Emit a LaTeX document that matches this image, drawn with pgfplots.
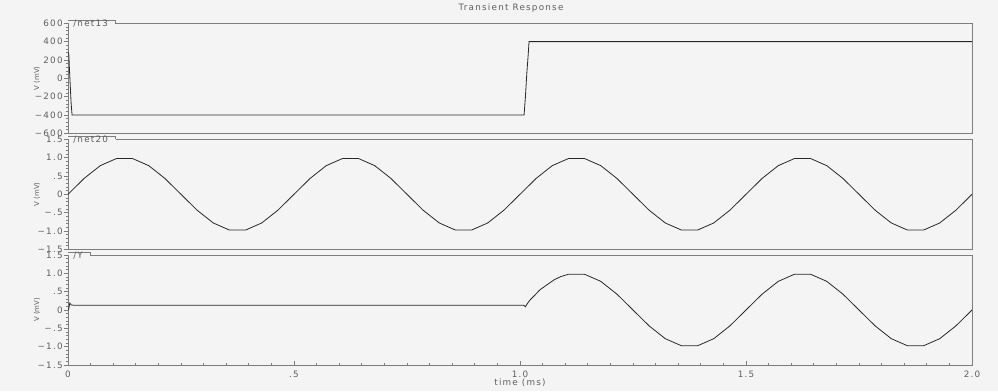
\documentclass[border=0pt]{standalone}
\usepackage{fontspec}
\setmainfont{DejaVu Sans}[LetterSpace=14]
\newfontfamily\labfont{DejaVu Sans}
\usepackage{pgfplots}
\pgfplotsset{compat=1.18}
\definecolor{bg}{RGB}{244,244,244}
\definecolor{frame}{RGB}{125,125,125}
\definecolor{txt}{RGB}{95,95,95}
\definecolor{wave}{RGB}{40,40,40}

\pgfplotstableread{
t v
0 0
0.0357 0.4339
0.0714 0.7818
0.1071 0.9749
0.1429 0.9749
0.1786 0.7818
0.2143 0.4339
0.25 0
0.2857 -0.4339
0.3214 -0.7818
0.3571 -0.9749
0.3929 -0.9749
0.4286 -0.7818
0.4643 -0.4339
0.5 0
0.5357 0.4339
0.5714 0.7818
0.6071 0.9749
0.6429 0.9749
0.6786 0.7818
0.7143 0.4339
0.75 0
0.7857 -0.4339
0.8214 -0.7818
0.8571 -0.9749
0.8929 -0.9749
0.9286 -0.7818
0.9643 -0.4339
1.0 0
1.0357 0.4339
1.0714 0.7818
1.1071 0.9749
1.1429 0.9749
1.1786 0.7818
1.2143 0.4339
1.25 0
1.2857 -0.4339
1.3214 -0.7818
1.3571 -0.9749
1.3929 -0.9749
1.4286 -0.7818
1.4643 -0.4339
1.5 0
1.5357 0.4339
1.5714 0.7818
1.6071 0.9749
1.6429 0.9749
1.6786 0.7818
1.7143 0.4339
1.75 0
1.7857 -0.4339
1.8214 -0.7818
1.8571 -0.9749
1.8929 -0.9749
1.9286 -0.7818
1.9643 -0.4339
2.0 0
}\netTwenty

\pgfplotstableread{
t v
0 0
0.002 0.05
0.004 0.19
0.007 0.14
0.012 0.13
1.008 0.13
1.012 0.09
1.016 0.17
1.022 0.27
1.030 0.37
1.044 0.55
1.060 0.69
1.075 0.82
1.090 0.91
1.1071 0.9749
1.1429 0.9749
1.1786 0.7818
1.2143 0.4339
1.25 0
1.2857 -0.4339
1.3214 -0.7818
1.3571 -0.9749
1.3929 -0.9749
1.4286 -0.7818
1.4643 -0.4339
1.5 0
1.5357 0.4339
1.5714 0.7818
1.6071 0.9749
1.6429 0.9749
1.6786 0.7818
1.7143 0.4339
1.75 0
1.7857 -0.4339
1.8214 -0.7818
1.8571 -0.9749
1.8929 -0.9749
1.9286 -0.7818
1.9643 -0.4339
2.0 0
}\netY

\pgfplotstableread{
t v
0 290
0.002 250
0.003 120
0.005 -80
0.007 -280
0.009 -400
1.009 -400
1.012 -200
1.015 50
1.018 250
1.020 400
2.0 400
}\netThirteen

\pgfplotsset{
  panel/.style={
    scale only axis, width=678pt, height=82.5pt,
    anchor=north west,
    xmin=0, xmax=2,
    axis background/.style={fill=bg},
    axis line style={frame, line width=0.75pt},
    every tick/.style={frame, line width=0.5pt},
    ytick align=outside, xtick align=inside,
    ytick pos=left, xtick pos=bottom,
    major tick length=3.2pt, minor tick length=1.6pt,
    minor y tick num=4,
    tick label style={font=\fontsize{6.6}{7.5}\selectfont, text=txt},
    yticklabel style={inner xsep=0.6pt},
    /pgf/number format/assume math mode=true,
    ylabel={V (mV)},
    every axis y label/.style={at={(axis description cs:0,0.5)}, xshift=-23.25pt,
      rotate=90, anchor=center, font=\labfont\fontsize{5.2}{6}\selectfont, text=txt},
  },
  wv/.style={wave, line width=0.6pt, mark=none},
}

\begin{document}
\begin{tikzpicture}
\begin{scope}[x=0.75pt,y=-0.75pt]
\fill[bg] (0,0) rectangle (998,391);
\useasboundingbox (0,0) rectangle (998,391);
\node[font=\fontsize{6.6}{7.5}\selectfont, text=txt] at (511,8) {Transient Response};
\end{scope}

% Panel 1: /net13
\begin{axis}[panel, at={(51pt,-17.475pt)},
  ymin=-600, ymax=600,
  ytick={-600,-400,-200,0,200,400,600},
  yticklabels={−600,−400,−200,0,200,400,600},
  xtick=\empty]
\addplot[wv] table[x=t,y=v] {\netThirteen};
\end{axis}

% Panel 2: /net20
\begin{axis}[panel, at={(51pt,-104.475pt)},
  ymin=-1.5, ymax=1.5,
  ytick={-1.5,-1,-0.5,0,0.5,1,1.5},
  yticklabels={−1.5,−1.0,−.5,0,.5,1.0,1.5},
  xtick=\empty]
\addplot[wv] table[x=t,y=v] {\netTwenty};
\end{axis}

% Panel 3: /Y
\begin{axis}[panel, at={(51pt,-191.25pt)},
  ymin=-1.5, ymax=1.5,
  ytick={-1.5,-1,-0.5,0,0.5,1,1.5},
  yticklabels={−1.5,−1.0,−.5,0,.5,1.0,1.5},
  xtick={0,0.5,1,1.5,2},
  xticklabels={0,.5,1.0,1.5,2.0},
  minor x tick num=9,
  xticklabel style={yshift=-1pt},
  xlabel={time (ms)},
  xlabel style={font=\fontsize{6.6}{7.5}\selectfont, text=txt, yshift=6pt}]
\addplot[wv] table[x=t,y=v] {\netY};
\end{axis}

\begin{scope}[x=0.75pt,y=-0.75pt]
% tabs
\fill[bg] (68.6,20.3) rectangle (115,27);
\draw[frame, line width=0.6pt] (68.3,20.3) -- (115,20.3) -- (115,23.3);
\node[font=\fontsize{6.6}{7.5}\selectfont, text=txt, anchor=west, inner sep=0pt] at (73,23.5) {/net13};
\fill[bg] (68.6,136.3) rectangle (115.5,143);
\draw[frame, line width=0.6pt] (68.3,136.3) -- (115.5,136.3) -- (115.5,139.3);
\node[font=\fontsize{6.6}{7.5}\selectfont, text=txt, anchor=west, inner sep=0pt] at (73,139.5) {/net20};
\fill[bg] (68.6,252) rectangle (90,259);
\draw[frame, line width=0.6pt] (68.3,252) -- (90,252) -- (90,255);
\node[font=\fontsize{6.6}{7.5}\selectfont, text=txt, anchor=west, inner sep=0pt] at (73,255.3) {/Y};
\end{scope}
\end{tikzpicture}
\end{document}
